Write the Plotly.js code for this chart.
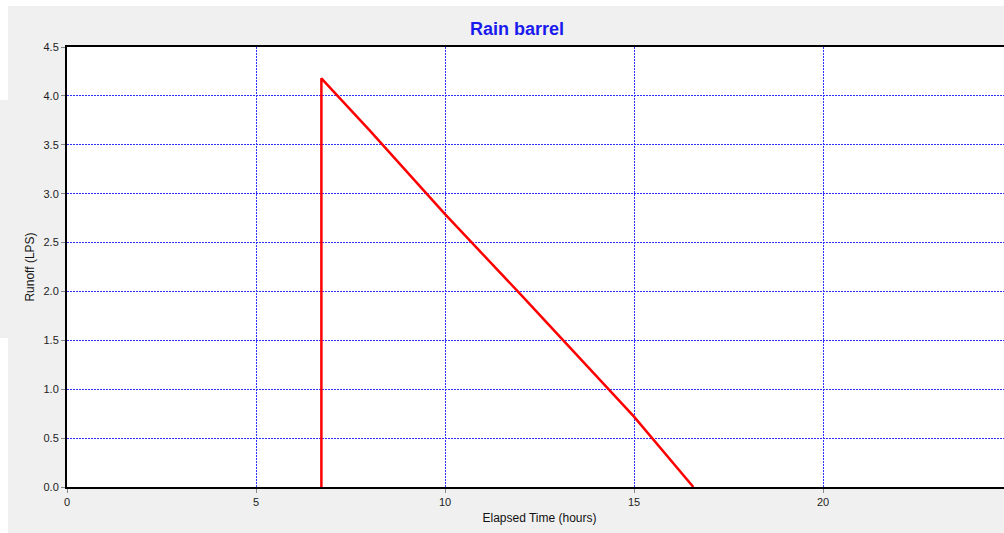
<!DOCTYPE html>
<html>
<head>
<meta charset="utf-8">
<script src="https://cdn.plot.ly/plotly-3.0.1.min.js"></script>
<style>
  html, body { margin: 0; padding: 0; background: #ffffff; overflow: hidden; width: 1004px; height: 533px; }
  #chart { position: absolute; left: 8px; top: 6px; width: 1016px; height: 527px; }
  #leftstrip { position: absolute; left: 0; top: 100px; width: 8px; height: 238px; background: #f0f0f0; }
</style>
</head>
<body>
<div id="leftstrip"></div>
<div id="chart"></div>
<script>
// Data
const elapsedHours = [6.73, 6.73, 8.0, 10.0, 12.0, 15.0, 16.57];
const runoffLPS    = [0,    4.18, 3.65, 2.79, 1.97, 0.72, 0];
const xTicks = [0, 5, 10, 15, 20];
const yTicks = [0, 0.5, 1.0, 1.5, 2.0, 2.5, 3.0, 3.5, 4.0, 4.5];
const chartTitle = "Rain barrel";
const xLabel = "Elapsed Time (hours)";
const yLabel = "Runoff (LPS)";

const trace = {
  x: elapsedHours,
  y: runoffLPS,
  type: 'scatter',
  mode: 'lines',
  line: { color: '#ff0000', width: 2.5 },
  hoverinfo: 'skip'
};

const layout = {
  width: 1016,
  height: 527,
  paper_bgcolor: '#f0f0f0',
  plot_bgcolor: '#ffffff',
  margin: { l: 59, r: 12, t: 41, b: 46 },
  showlegend: false,
  font: { family: 'Liberation Sans, Arial, sans-serif', color: '#222222', size: 11 },
  title: {
    text: '<b>' + chartTitle + '</b>',
    font: { family: 'Liberation Sans, Arial, sans-serif', size: 18, color: '#1a1aee' },
    x: 0.501, xref: 'container', xanchor: 'center',
    y: 0.956, yref: 'container', yanchor: 'middle'
  },
  xaxis: {
    range: [0, 25],
    tickvals: xTicks,
    ticktext: xTicks.map(String),
    showgrid: true,
    gridcolor: '#3030ff',
    griddash: '2px,1px',
    gridwidth: 1,
    zeroline: false,
    showline: true,
    linecolor: '#000000',
    linewidth: 2,
    mirror: true,
    ticks: 'outside',
    ticklen: 4,
    tickcolor: '#888888',
    tickfont: { size: 11, color: '#222222' },
    automargin: false,
    title: { text: xLabel, font: { size: 12, color: '#111111' }, standoff: 6 }
  },
  yaxis: {
    range: [0, 4.5],
    tickvals: yTicks,
    ticktext: yTicks.map(v => v.toFixed(1)),
    showgrid: true,
    gridcolor: '#3030ff',
    griddash: '2px,1px',
    gridwidth: 1,
    zeroline: false,
    showline: true,
    linecolor: '#000000',
    linewidth: 2,
    mirror: true,
    ticks: 'outside',
    ticklen: 4,
    tickcolor: '#888888',
    tickfont: { size: 11, color: '#222222' },
    automargin: false,
    title: { text: yLabel, font: { size: 12, color: '#111111' }, standoff: 6 }
  }
};

Plotly.newPlot('chart', [trace], layout, { staticPlot: true, displayModeBar: false });
</script>
</body>
</html>
